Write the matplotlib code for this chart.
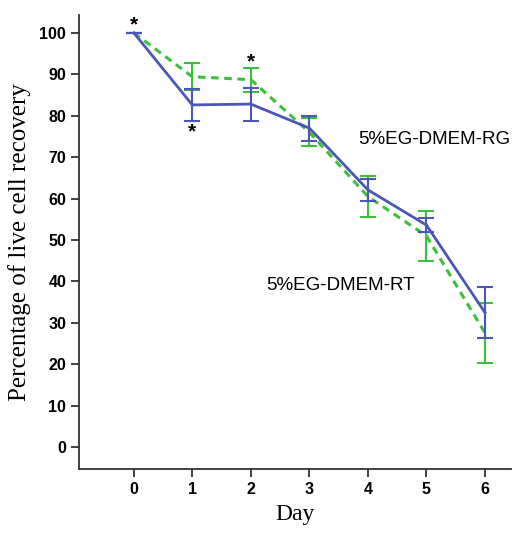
import numpy as np
import matplotlib.pyplot as plt

days = [0, 1, 2, 3, 4, 5, 6]

# 5%EG-DMEM-RG (blue, solid)
rg_mean = [100, 82.6, 82.8, 77.0, 62.1, 53.6, 32.5]
rg_err = [0, 3.9, 4.0, 3.0, 2.7, 1.6, 6.2]

# 5%EG-DMEM-RT (green, dashed)
rt_mean = [100, 89.4, 88.7, 76.0, 60.5, 51.0, 27.6]
rt_err = [0, 3.2, 2.9, 3.4, 4.9, 6.0, 7.3]

star_x = [0, 1, 2]
star_y = [101.8, 76.0, 93.0]

blue = '#4a56b8'
green = '#3cc03c'

fig = plt.figure(figsize=(5.32, 5.35), dpi=100)
ax = fig.add_axes([0.148, 0.123, 0.812, 0.849])

ax.errorbar(days, rg_mean, yerr=rg_err, color=blue, lw=2, elinewidth=1.5,
            capsize=6, capthick=1.5, zorder=3)
ax.errorbar(days, rt_mean, yerr=rt_err, color=green, lw=2.2, ls=(0, (2.5, 1.8)),
            elinewidth=1.5, capsize=6, capthick=1.5, zorder=2)

for x, y in zip(star_x, star_y):
    ax.text(x, y, '*', ha='center', va='center', fontsize=15, fontweight='bold',
            family='Liberation Sans')

ax.text(3.84, 74.2, '5%EG-DMEM-RG', fontsize=13.5, va='center', ha='left',
        family='Liberation Sans')
ax.text(2.26, 39.1, '5%EG-DMEM-RT', fontsize=13.5, va='center', ha='left',
        family='Liberation Sans')

ax.set_xlim(-0.94, 6.44)
ax.set_ylim(-5.3, 104.3)
ax.set_xticks(days)
ax.set_yticks(np.arange(0, 101, 10))

for s in ['top', 'right']:
    ax.spines[s].set_visible(False)
for s in ['left', 'bottom']:
    ax.spines[s].set_linewidth(1.3)
    ax.spines[s].set_color('#333333')

ax.tick_params(direction='out', length=6, width=1.3, color='#333333', pad=3)
for lab in ax.get_xticklabels() + ax.get_yticklabels():
    lab.set_fontweight('bold')
    lab.set_family('Liberation Sans')
    lab.set_fontsize(11.5)

ax.set_xlabel('Day', family='Liberation Serif', fontsize=17, labelpad=5)
ax.set_ylabel('Percentage of live cell recovery', family='Liberation Serif',
              fontsize=18, labelpad=6)

fig.savefig('out.png', dpi=100)
